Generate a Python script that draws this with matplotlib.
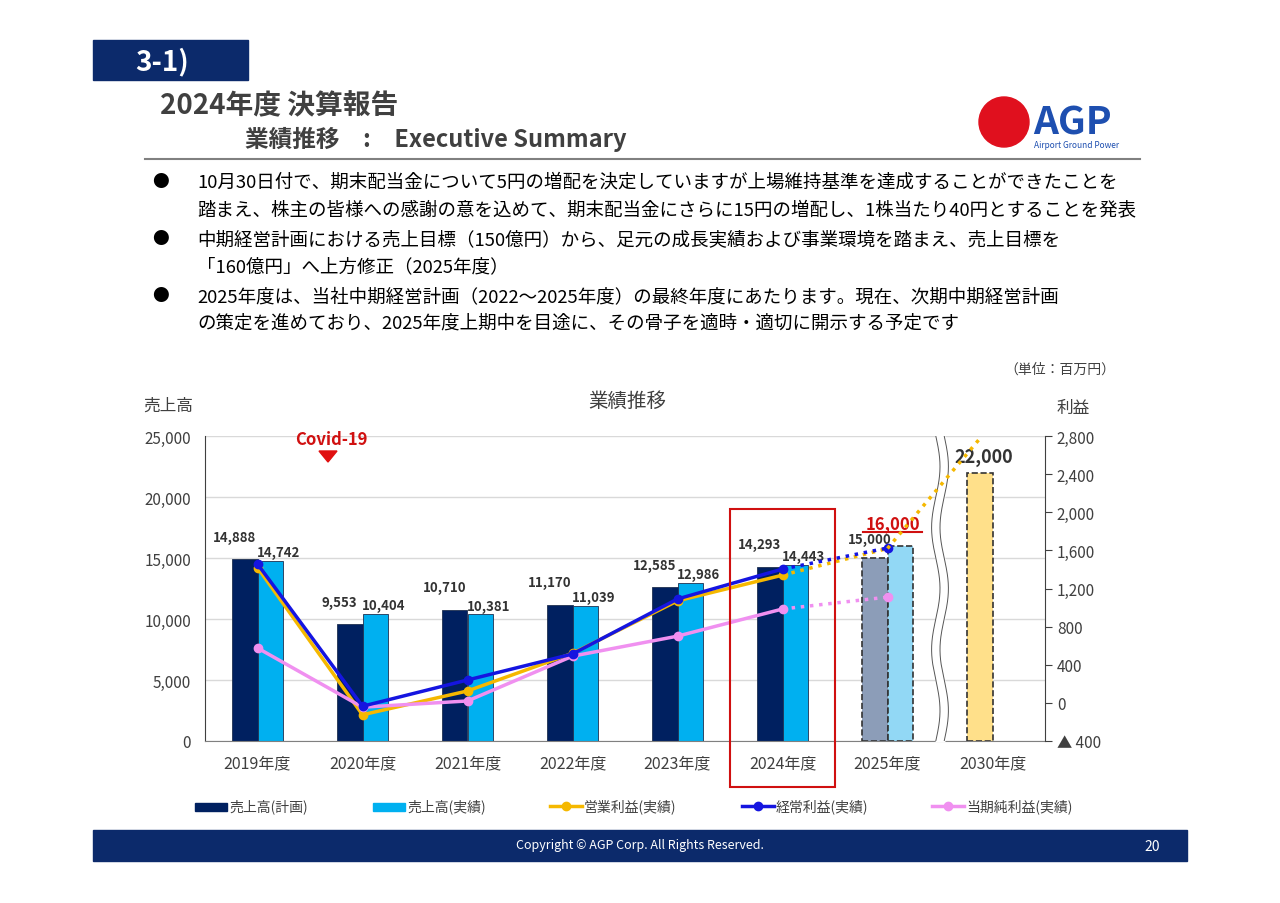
import numpy as np
import matplotlib
matplotlib.use("Agg")
import matplotlib.pyplot as plt
from matplotlib.patches import Rectangle, Polygon, Ellipse

plt.rcParams["font.family"] = ["Noto Sans CJK JP", "DejaVu Sans"]

years = ["2019年度", "2020年度", "2021年度", "2022年度", "2023年度", "2024年度", "2025年度", "2030年度"]
sales_plan = [14888, 9553, 10710, 11170, 12585, 14293, 15000]
sales_actual = [14742, 10404, 10381, 11039, 12986, 14443, 16000]
sales_2030 = 22000
op_profit = [1420, -125, 125, 520, 1070, 1340, 1620]
ord_profit = [1457, -35, 240, 513, 1090, 1404, 1625]
net_profit = [576, -45, 20, 490, 700, 985, 1110]

NAVY = "#002060"
SKY = "#00B0F0"
GOLD = "#F5B800"
BLUE = "#1515E0"
PINK = "#F090F0"

fig = plt.figure(figsize=(12.8, 9.04), dpi=100)

def fx(p): return p / 1280
def fy(p): return 1 - p / 904

# header
fig.patches.append(Rectangle((fx(93), fy(81)), fx(155), 40 / 904, color="#0C2A6B", transform=fig.transFigure))
fig.text(fx(135), fy(62), "3-1)", color="white", fontsize=20, fontweight="bold", va="center")
fig.text(fx(160), fy(106), "2024年度 決算報告", color="#404040", fontsize=20, fontweight="bold", va="center")
fig.text(fx(245), fy(139), "業績推移　:　Executive Summary", color="#404040", fontsize=17, fontweight="bold", va="center")
fig.add_artist(plt.Line2D([fx(145), fx(1140)], [fy(160), fy(160)], color="#808080", lw=1.5))
fig.text(fx(1033), fy(123), "AGP", color="#1E4FB0", fontsize=28, fontweight="bold", va="center")
fig.text(fx(1034), fy(146), "Airport Ground Power", color="#1E4FB0", fontsize=6, va="center")
fig.patches.append(Ellipse((fx(1004), fy(123)), 50 / 1280, 50 / 904, color="#E0101E", transform=fig.transFigure))

bullets = [
    ("10月30日付で、期末配当金について5円の増配を決定していますが上場維持基準を達成することができたことを",
     "踏まえ、株主の皆様への感謝の意を込めて、期末配当金にさらに15円の増配し、1株当たり40円とすることを発表"),
    ("中期経営計画における売上目標（150億円）から、足元の成長実績および事業環境を踏まえ、売上目標を",
     "「160億円」へ上方修正（2025年度）"),
    ("2025年度は、当社中期経営計画（2022～2025年度）の最終年度にあたります。現在、次期中期経営計画",
     "の策定を進めており、2025年度上期中を目途に、その骨子を適時・適切に開示する予定です"),
]
for i, (a, b) in enumerate(bullets):
    y0 = 183 + i * 57
    fig.text(fx(152), fy(y0), "●", fontsize=12, va="center")
    fig.text(fx(197), fy(y0), a, fontsize=13.3, va="center")
    fig.text(fx(197), fy(y0 + 27), b, fontsize=13.3, va="center")
fig.text(fx(1115), fy(370), "（単位：百万円）", fontsize=10, ha="right", va="center", color="#404040")

# chart
ax = fig.add_axes([fx(205), fy(742), fx(1045) - fx(205), (742 - 437) / 904])
ax2 = ax.twinx()
x = np.arange(len(years))
w = 0.24
ax.bar(x[:6] - w / 2, sales_plan[:6], w, color=NAVY, edgecolor="#1F3050", lw=0.6, zorder=2)
ax.bar(x[:6] + w / 2, sales_actual[:6], w, color=SKY, edgecolor="#1F3050", lw=0.6, zorder=2)
ax.bar(x[6] - w / 2, sales_plan[6], w, color="#8C9DB8", edgecolor="#333333", ls="--", lw=1.2, zorder=2)
ax.bar(x[6] + w / 2, sales_actual[6], w, color="#92D8F5", edgecolor="#333333", ls="--", lw=1.2, zorder=2)
ax.bar(x[7] - w / 2, sales_2030, w, color="#FFE08A", edgecolor="#333333", ls="--", lw=1.2, zorder=2)

for i in range(6):
    ax.text(x[i] - w / 2 - 0.1, sales_plan[i] + 1300, f"{sales_plan[i]:,}", ha="center", va="bottom",
            fontsize=9.5, fontweight="bold", color="#333333", zorder=5)
    ax.text(x[i] + w / 2 + 0.08, sales_actual[i] + 150, f"{sales_actual[i]:,}", ha="center", va="bottom",
            fontsize=9.5, fontweight="bold", color="#333333", zorder=5)
ax.text(x[6] - w / 2 - 0.05, sales_plan[6] + 1000, f"{sales_plan[6]:,}", ha="center", va="bottom",
        fontsize=9.5, fontweight="bold", color="#333333", zorder=5)
ax.text(x[6] + 0.05, sales_actual[6] + 1150, f"{sales_actual[6]:,}", ha="center", va="bottom",
        fontsize=12, fontweight="bold", color="#D01010", zorder=5)
ax.plot([x[6] - 0.23, x[6] + 0.33], [sales_actual[6] + 1150] * 2, color="#D01010", lw=1.5, zorder=5)
ax.text(x[7] - 0.08, sales_2030 + 500, f"{sales_2030:,}", ha="center", va="bottom",
        fontsize=13, fontweight="bold", color="#333333", zorder=5)

ax.set_ylim(0, 25000)
ax.set_xlim(-0.5, 7.5)
ax.set_yticks(range(0, 25001, 5000))
ax.set_yticklabels([f"{v:,}" for v in range(0, 25001, 5000)], fontsize=11, color="#404040")
ax.set_xticks(x)
ax.set_xticklabels(years, fontsize=11.5, color="#404040")
ax.tick_params(length=0, pad=10)
ax.grid(axis="y", color="#D9D9D9", lw=1, zorder=0)
ax.set_axisbelow(True)
for s in ["top", "right"]:
    ax.spines[s].set_visible(False)
ax.spines["left"].set_color("#404040")
ax.spines["bottom"].set_color("#808080")

ax2.set_ylim(-400, 2800)
ticks = list(range(-400, 2801, 400))
ax2.set_yticks(ticks)
ax2.set_yticklabels(["▲ 400" if t < 0 else f"{t:,}" for t in ticks], fontsize=11, color="#404040")
ax2.tick_params(length=5, color="#404040")
for s in ["top", "left", "bottom"]:
    ax2.spines[s].set_visible(False)
ax2.spines["right"].set_color("#404040")

for vals, c in [(op_profit, GOLD), (net_profit, PINK), (ord_profit, BLUE)]:
    ax2.plot(x[:6], vals[:6], color=c, lw=2.5, marker="o", ms=6, zorder=4)
    ax2.plot(x[5:7], vals[5:7], color=c, lw=2.5, ls=":", zorder=4)
ax2.plot(x[6], ord_profit[6], "o", color=BLUE, ms=6, zorder=4)
ax2.plot(x[6], net_profit[6], "o", color=PINK, ms=6, zorder=4)
ax2.plot([x[6], x[7] - 0.1], [op_profit[6], 2800], color=GOLD, lw=2.5, ls=":", zorder=4, clip_on=False)

# axis break
t = np.linspace(0, 1, 200)
bx = 6.5 + 0.04 * np.sin(t * 2 * np.pi * 2.5)
ax.fill_betweenx(t * 25000, bx - 0.04, bx + 0.04, color="white", zorder=3)
ax.plot(bx - 0.04, t * 25000, color="#555555", lw=0.7, zorder=3)
ax.plot(bx + 0.04, t * 25000, color="#555555", lw=0.7, zorder=3)

# Covid marker
fig.text(fx(331), fy(440), "Covid-19", color="#D01010", fontsize=12, fontweight="bold", ha="center", va="center")
fig.patches.append(Polygon([[fx(319), fy(452)], [fx(337), fy(452)], [fx(328), fy(463)]], closed=True,
                           color="#E01010", transform=fig.transFigure))
fig.patches.append(Rectangle((fx(730), fy(788)), fx(105), (788 - 510) / 904, fill=False, ec="#D01010", lw=1.5,
                             transform=fig.transFigure, zorder=10))

fig.text(fx(168), fy(406), "売上高", fontsize=12, color="#404040", ha="center", va="center")
fig.text(fx(1073), fy(408), "利益", fontsize=12, color="#404040", ha="center", va="center")
fig.text(fx(627), fy(401), "業績推移", fontsize=14, color="#404040", ha="center", va="center")

# legend
leg = [("売上高(計画)", NAVY, "bar"), ("売上高(実績)", SKY, "bar"), ("営業利益(実績)", GOLD, "line"),
       ("経常利益(実績)", BLUE, "line"), ("当期純利益(実績)", PINK, "line")]
lx = [195, 373, 550, 742, 932]
for (lab, c, kind), px in zip(leg, lx):
    if kind == "bar":
        fig.patches.append(Rectangle((fx(px), fy(812)), fx(32), 8 / 904, color=c, transform=fig.transFigure))
    else:
        fig.add_artist(plt.Line2D([fx(px), fx(px + 32)], [fy(807), fy(807)], color=c, lw=2.5))
        fig.add_artist(plt.Line2D([fx(px + 16)], [fy(807)], color=c, marker="o", ms=6))
    fig.text(fx(px + 34), fy(807), lab, fontsize=10, color="#404040", va="center")

fig.patches.append(Rectangle((fx(93), fy(862)), fx(1094), 31 / 904, color="#0C2A6B", transform=fig.transFigure))
fig.text(fx(640), fy(846), "Copyright © AGP Corp. All Rights Reserved.", color="white", fontsize=9,
         ha="center", va="center")
fig.text(fx(1152), fy(847), "20", color="white", fontsize=10, ha="center", va="center")

fig.savefig("out.png", dpi=100)
